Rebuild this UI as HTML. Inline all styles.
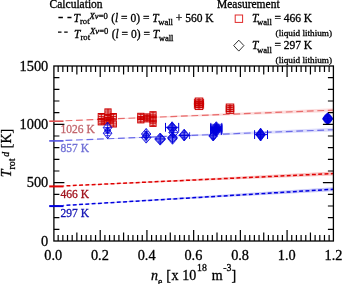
<!DOCTYPE html>
<html lang="en"><head><meta charset="utf-8"><title>Trot vs ne</title>
<style>html,body{margin:0;padding:0;background:#fff;}svg{display:block;}text{font-family:"Liberation Serif","Times New Roman",serif;color:#000;fill:currentColor;stroke:currentColor;stroke-width:0.3px;}.sans{font-family:"Liberation Sans",Arial,sans-serif;}.i{font-style:italic;}</style></head><body>
<svg width="342" height="284" viewBox="0 0 342 284">
<rect x="0" y="0" width="342" height="284" fill="#fff"/>
<polygon points="53.9,121.2 333.4,108.19999999999999 333.4,112.0" fill="#fcdcdc"/>
<polygon points="53.9,140.9 333.4,127.79999999999998 333.4,131.6" fill="#dcdcfc"/>
<polygon points="53.9,186.4 333.4,171.6 333.4,175.6" fill="#f9c4c4"/>
<polygon points="53.9,206.1 333.4,187.3 333.4,191.3" fill="#c6c6f9"/>
<line x1="63.5" y1="120.82" x2="333.4" y2="110.1" stroke="#e86a6a" stroke-width="1.15" stroke-dasharray="6.8 3.7" stroke-dashoffset="-2"/>
<line x1="63.5" y1="140.52" x2="333.4" y2="129.7" stroke="#6a6ae8" stroke-width="1.15" stroke-dasharray="6.8 3.7" stroke-dashoffset="-2"/>
<line x1="63.5" y1="185.96" x2="333.4" y2="173.6" stroke="#e00000" stroke-width="1.5" stroke-dasharray="3.9 2.4" stroke-dashoffset="-3"/>
<line x1="63.5" y1="205.52" x2="333.4" y2="189.3" stroke="#0000e0" stroke-width="1.5" stroke-dasharray="3.9 2.4" stroke-dashoffset="-3"/>
<rect x="104.90" y="108.90" width="6.2" height="6.2" fill="#cc0000" fill-opacity="0.18" stroke="#cc0000" stroke-width="1.0"/>
<path d="M108.00 108.90V115.10M104.90 112.00H111.10M105.50 110.00h5M105.50 114.00h5" stroke="#cc0000" stroke-width="0.9" fill="none"/>
<rect x="98.20" y="113.50" width="6.2" height="6.2" fill="#cc0000" fill-opacity="0.18" stroke="#cc0000" stroke-width="1.0"/>
<path d="M101.30 113.50V119.70M98.20 116.60H104.40M98.80 114.60h5M98.80 118.60h5" stroke="#cc0000" stroke-width="0.9" fill="none"/>
<rect x="98.20" y="118.70" width="6.2" height="6.2" fill="#cc0000" fill-opacity="0.18" stroke="#cc0000" stroke-width="1.0"/>
<path d="M101.30 118.70V124.90M98.20 121.80H104.40M98.80 119.80h5M98.80 123.80h5" stroke="#cc0000" stroke-width="0.9" fill="none"/>
<rect x="104.90" y="114.40" width="6.2" height="6.2" fill="#cc0000" fill-opacity="0.18" stroke="#cc0000" stroke-width="1.0"/>
<path d="M108.00 114.40V120.60M104.90 117.50H111.10M105.50 115.50h5M105.50 119.50h5" stroke="#cc0000" stroke-width="0.9" fill="none"/>
<rect x="110.20" y="113.50" width="6.2" height="6.2" fill="#cc0000" fill-opacity="0.18" stroke="#cc0000" stroke-width="1.0"/>
<path d="M113.30 113.50V119.70M110.20 116.60H116.40M110.80 114.60h5M110.80 118.60h5" stroke="#cc0000" stroke-width="0.9" fill="none"/>
<rect x="110.20" y="120.80" width="6.2" height="6.2" fill="#cc0000" fill-opacity="0.18" stroke="#cc0000" stroke-width="1.0"/>
<path d="M113.30 120.80V127.00M110.20 123.90H116.40M110.80 121.90h5M110.80 125.90h5" stroke="#cc0000" stroke-width="0.9" fill="none"/>
<rect x="102.90" y="117.90" width="6.2" height="6.2" fill="#cc0000" fill-opacity="0.18" stroke="#cc0000" stroke-width="1.0"/>
<path d="M106.00 117.90V124.10M102.90 121.00H109.10M103.50 119.00h5M103.50 123.00h5" stroke="#cc0000" stroke-width="0.9" fill="none"/>
<rect x="106.90" y="116.90" width="6.2" height="6.2" fill="#cc0000" fill-opacity="0.18" stroke="#cc0000" stroke-width="1.0"/>
<path d="M110.00 116.90V123.10M106.90 120.00H113.10M107.50 118.00h5M107.50 122.00h5" stroke="#cc0000" stroke-width="0.9" fill="none"/>
<rect x="137.70" y="113.30" width="6.2" height="6.2" fill="#cc0000" fill-opacity="0.18" stroke="#cc0000" stroke-width="1.0"/>
<path d="M140.80 113.30V119.50M137.70 116.40H143.90M138.30 114.40h5M138.30 118.40h5" stroke="#cc0000" stroke-width="0.9" fill="none"/>
<rect x="137.70" y="116.70" width="6.2" height="6.2" fill="#cc0000" fill-opacity="0.18" stroke="#cc0000" stroke-width="1.0"/>
<path d="M140.80 116.70V122.90M137.70 119.80H143.90M138.30 117.80h5M138.30 121.80h5" stroke="#cc0000" stroke-width="0.9" fill="none"/>
<rect x="143.90" y="113.90" width="6.2" height="6.2" fill="#cc0000" fill-opacity="0.18" stroke="#cc0000" stroke-width="1.0"/>
<path d="M147.00 113.90V120.10M143.90 117.00H150.10M144.50 115.00h5M144.50 119.00h5" stroke="#cc0000" stroke-width="0.9" fill="none"/>
<rect x="143.90" y="115.70" width="6.2" height="6.2" fill="#cc0000" fill-opacity="0.18" stroke="#cc0000" stroke-width="1.0"/>
<path d="M147.00 115.70V121.90M143.90 118.80H150.10M144.50 116.80h5M144.50 120.80h5" stroke="#cc0000" stroke-width="0.9" fill="none"/>
<rect x="149.90" y="111.70" width="6.2" height="6.2" fill="#cc0000" fill-opacity="0.18" stroke="#cc0000" stroke-width="1.0"/>
<path d="M153.00 111.70V117.90M149.90 114.80H156.10M150.50 112.80h5M150.50 116.80h5" stroke="#cc0000" stroke-width="0.9" fill="none"/>
<rect x="149.90" y="115.90" width="6.2" height="6.2" fill="#cc0000" fill-opacity="0.18" stroke="#cc0000" stroke-width="1.0"/>
<path d="M153.00 115.90V122.10M149.90 119.00H156.10M150.50 117.00h5M150.50 121.00h5" stroke="#cc0000" stroke-width="0.9" fill="none"/>
<rect x="149.90" y="120.20" width="6.2" height="6.2" fill="#cc0000" fill-opacity="0.18" stroke="#cc0000" stroke-width="1.0"/>
<path d="M153.00 120.20V126.40M149.90 123.30H156.10M150.50 121.30h5M150.50 125.30h5" stroke="#cc0000" stroke-width="0.9" fill="none"/>
<rect x="195.25" y="98.05" width="7.5" height="7.5" fill="#cc0000" fill-opacity="0.18" stroke="#cc0000" stroke-width="1.0"/>
<path d="M199.00 98.10V105.50M195.25 101.80H202.75M196.50 99.80h5M196.50 103.80h5" stroke="#cc0000" stroke-width="0.9" fill="none"/>
<path d="M194.40 101.80H203.60M194.40 98.80v6M203.60 98.80v6" stroke="#cc0000" stroke-width="0.9" fill="none"/>
<rect x="195.25" y="100.05" width="7.5" height="7.5" fill="#cc0000" fill-opacity="0.18" stroke="#cc0000" stroke-width="1.0"/>
<path d="M199.00 100.10V107.50M195.25 103.80H202.75M196.50 101.80h5M196.50 105.80h5" stroke="#cc0000" stroke-width="0.9" fill="none"/>
<path d="M194.50 103.80H203.50M194.50 100.80v6M203.50 100.80v6" stroke="#cc0000" stroke-width="0.9" fill="none"/>
<rect x="195.25" y="102.05" width="7.5" height="7.5" fill="#cc0000" fill-opacity="0.18" stroke="#cc0000" stroke-width="1.0"/>
<path d="M199.00 102.10V109.50M195.25 105.80H202.75M196.50 103.80h5M196.50 107.80h5" stroke="#cc0000" stroke-width="0.9" fill="none"/>
<path d="M194.40 105.80H203.60M194.40 102.80v6M203.60 102.80v6" stroke="#cc0000" stroke-width="0.9" fill="none"/>
<rect x="226.25" y="104.05" width="7.5" height="7.5" fill="#cc0000" fill-opacity="0.18" stroke="#cc0000" stroke-width="1.0"/>
<path d="M230.00 104.10V111.50M226.25 107.80H233.75M227.50 105.80h5M227.50 109.80h5" stroke="#cc0000" stroke-width="0.9" fill="none"/>
<rect x="226.25" y="105.85" width="7.5" height="7.5" fill="#cc0000" fill-opacity="0.18" stroke="#cc0000" stroke-width="1.0"/>
<path d="M230.00 105.90V113.30M226.25 109.60H233.75M227.50 107.60h5M227.50 111.60h5" stroke="#cc0000" stroke-width="0.9" fill="none"/>
<rect x="211" y="123.8" width="10.6" height="9.4" fill="#0000dd" fill-opacity="0.55"/>
<ellipse cx="327.7" cy="118.7" rx="4.6" ry="5.4" fill="#0000dd" fill-opacity="0.6"/>
<path d="M107.60 122.10L111.90 127.60L107.60 133.10L103.30 127.60Z" fill="#0000dd" fill-opacity="0.03" stroke="#0000dd" stroke-width="0.85"/>
<path d="M107.60 122.10V133.10M103.30 127.60H111.90M105.40 125.20h4.4M105.40 130.00h4.4" stroke="#0000dd" stroke-width="0.7" fill="none"/>
<path d="M107.60 127.70L111.90 133.20L107.60 138.70L103.30 133.20Z" fill="#0000dd" fill-opacity="0.03" stroke="#0000dd" stroke-width="0.85"/>
<path d="M107.60 127.70V138.70M103.30 133.20H111.90M105.40 130.80h4.4M105.40 135.60h4.4" stroke="#0000dd" stroke-width="0.7" fill="none"/>
<path d="M107.60 126.90L110.60 130.40L107.60 133.90L104.60 130.40Z" fill="#0000dd" fill-opacity="0.0" stroke="#0000dd" stroke-width="0.7"/>
<path d="M107.60 126.90V133.90M104.60 130.40H110.60M105.40 128.00h4.4M105.40 132.80h4.4" stroke="#0000dd" stroke-width="0.7" fill="none"/>
<path d="M146.20 128.50L150.90 134.00L146.20 139.50L141.50 134.00Z" fill="#0000dd" fill-opacity="0.08" stroke="#0000dd" stroke-width="0.85"/>
<path d="M146.20 128.50V139.50M141.50 134.00H150.90M144.00 131.60h4.4M144.00 136.40h4.4" stroke="#0000dd" stroke-width="0.7" fill="none"/>
<path d="M146.20 132.10L150.90 137.60L146.20 143.10L141.50 137.60Z" fill="#0000dd" fill-opacity="0.08" stroke="#0000dd" stroke-width="0.85"/>
<path d="M146.20 132.10V143.10M141.50 137.60H150.90M144.00 135.20h4.4M144.00 140.00h4.4" stroke="#0000dd" stroke-width="0.7" fill="none"/>
<path d="M146.20 130.90L149.45 135.40L146.20 139.90L142.95 135.40Z" fill="#0000dd" fill-opacity="0.0" stroke="#0000dd" stroke-width="0.7"/>
<path d="M146.20 130.90V139.90M142.95 135.40H149.45M144.00 133.00h4.4M144.00 137.80h4.4" stroke="#0000dd" stroke-width="0.7" fill="none"/>
<path d="M160.20 133.00L165.30 138.50L160.20 144.00L155.10 138.50Z" fill="#0000dd" fill-opacity="0.1" stroke="#0000dd" stroke-width="0.85"/>
<path d="M160.20 133.00V144.00M155.10 138.50H165.30M158.00 136.10h4.4M158.00 140.90h4.4" stroke="#0000dd" stroke-width="0.7" fill="none"/>
<path d="M160.20 134.10L165.30 139.60L160.20 145.10L155.10 139.60Z" fill="#0000dd" fill-opacity="0.1" stroke="#0000dd" stroke-width="0.85"/>
<path d="M160.20 134.10V145.10M155.10 139.60H165.30M158.00 137.20h4.4M158.00 142.00h4.4" stroke="#0000dd" stroke-width="0.7" fill="none"/>
<path d="M172.10 121.80L176.80 127.30L172.10 132.80L167.40 127.30Z" fill="#0000dd" fill-opacity="0.25" stroke="#0000dd" stroke-width="0.85"/>
<path d="M172.10 121.80V132.80M167.40 127.30H176.80M169.90 124.90h4.4M169.90 129.70h4.4" stroke="#0000dd" stroke-width="0.7" fill="none"/>
<path d="M165.50 127.30H178.70M165.50 122.90v8.8M178.70 122.90v8.8" stroke="#0000dd" stroke-width="1" fill="none"/>
<path d="M172.10 122.80L176.80 128.30L172.10 133.80L167.40 128.30Z" fill="#0000dd" fill-opacity="0.25" stroke="#0000dd" stroke-width="0.85"/>
<path d="M172.10 122.80V133.80M167.40 128.30H176.80M169.90 125.90h4.4M169.90 130.70h4.4" stroke="#0000dd" stroke-width="0.7" fill="none"/>
<path d="M173.50 127.00L178.20 132.50L173.50 138.00L168.80 132.50Z" fill="#0000dd" fill-opacity="0.08" stroke="#0000dd" stroke-width="0.85"/>
<path d="M173.50 127.00V138.00M168.80 132.50H178.20M171.30 130.10h4.4M171.30 134.90h4.4" stroke="#0000dd" stroke-width="0.7" fill="none"/>
<path d="M172.50 133.20L177.20 138.70L172.50 144.20L167.80 138.70Z" fill="#0000dd" fill-opacity="0.1" stroke="#0000dd" stroke-width="0.85"/>
<path d="M172.50 133.20V144.20M167.80 138.70H177.20M170.30 136.30h4.4M170.30 141.10h4.4" stroke="#0000dd" stroke-width="0.7" fill="none"/>
<path d="M172.50 132.00L177.20 137.50L172.50 143.00L167.80 137.50Z" fill="#0000dd" fill-opacity="0.1" stroke="#0000dd" stroke-width="0.85"/>
<path d="M172.50 132.00V143.00M167.80 137.50H177.20M170.30 135.10h4.4M170.30 139.90h4.4" stroke="#0000dd" stroke-width="0.7" fill="none"/>
<path d="M184.20 130.00L188.90 135.50L184.20 141.00L179.50 135.50Z" fill="#0000dd" fill-opacity="0.12" stroke="#0000dd" stroke-width="0.85"/>
<path d="M184.20 130.00V141.00M179.50 135.50H188.90M182.00 133.10h4.4M182.00 137.90h4.4" stroke="#0000dd" stroke-width="0.7" fill="none"/>
<path d="M184.20 129.20L188.90 134.70L184.20 140.20L179.50 134.70Z" fill="#0000dd" fill-opacity="0.12" stroke="#0000dd" stroke-width="0.85"/>
<path d="M184.20 129.20V140.20M179.50 134.70H188.90M182.00 132.30h4.4M182.00 137.10h4.4" stroke="#0000dd" stroke-width="0.7" fill="none"/>
<path d="M216.30 121.80L221.30 127.30L216.30 132.80L211.30 127.30Z" fill="#0000dd" fill-opacity="0.3" stroke="#0000dd" stroke-width="0.85"/>
<path d="M216.30 121.80V132.80M211.30 127.30H221.30M214.10 124.90h4.4M214.10 129.70h4.4" stroke="#0000dd" stroke-width="0.7" fill="none"/>
<path d="M210.80 127.30H221.80M210.80 122.90v8.8M221.80 122.90v8.8" stroke="#0000dd" stroke-width="1" fill="none"/>
<path d="M216.30 122.90L221.30 128.40L216.30 133.90L211.30 128.40Z" fill="#0000dd" fill-opacity="0.3" stroke="#0000dd" stroke-width="0.85"/>
<path d="M216.30 122.90V133.90M211.30 128.40H221.30M214.10 126.00h4.4M214.10 130.80h4.4" stroke="#0000dd" stroke-width="0.7" fill="none"/>
<path d="M210.70 128.40H221.90M210.70 124.00v8.8M221.90 124.00v8.8" stroke="#0000dd" stroke-width="1" fill="none"/>
<path d="M216.30 124.10L221.30 129.60L216.30 135.10L211.30 129.60Z" fill="#0000dd" fill-opacity="0.3" stroke="#0000dd" stroke-width="0.85"/>
<path d="M216.30 124.10V135.10M211.30 129.60H221.30M214.10 127.20h4.4M214.10 132.00h4.4" stroke="#0000dd" stroke-width="0.7" fill="none"/>
<path d="M210.80 129.60H221.80M210.80 125.20v8.8M221.80 125.20v8.8" stroke="#0000dd" stroke-width="1" fill="none"/>
<path d="M216.00 125.10L221.00 130.60L216.00 136.10L211.00 130.60Z" fill="#0000dd" fill-opacity="0.3" stroke="#0000dd" stroke-width="0.85"/>
<path d="M216.00 125.10V136.10M211.00 130.60H221.00M213.80 128.20h4.4M213.80 133.00h4.4" stroke="#0000dd" stroke-width="0.7" fill="none"/>
<path d="M210.70 130.60H221.30M210.70 126.20v8.8M221.30 126.20v8.8" stroke="#0000dd" stroke-width="1" fill="none"/>
<path d="M213.20 131.40L217.30 136.20L213.20 141.00L209.10 136.20Z" fill="#0000dd" fill-opacity="0.25" stroke="#0000dd" stroke-width="0.85"/>
<path d="M213.20 131.40V141.00M209.10 136.20H217.30M211.00 133.80h4.4M211.00 138.60h4.4" stroke="#0000dd" stroke-width="0.7" fill="none"/>
<path d="M213.20 130.60L217.30 135.40L213.20 140.20L209.10 135.40Z" fill="#0000dd" fill-opacity="0.25" stroke="#0000dd" stroke-width="0.85"/>
<path d="M213.20 130.60V140.20M209.10 135.40H217.30M211.00 133.00h4.4M211.00 137.80h4.4" stroke="#0000dd" stroke-width="0.7" fill="none"/>
<path d="M260.60 128.90L264.90 134.60L260.60 140.30L256.30 134.60Z" fill="#0000dd" fill-opacity="0.35" stroke="#0000dd" stroke-width="0.85"/>
<path d="M260.60 128.90V140.30M256.30 134.60H264.90M258.40 132.20h4.4M258.40 137.00h4.4" stroke="#0000dd" stroke-width="0.7" fill="none"/>
<path d="M260.60 128.20L264.90 133.90L260.60 139.60L256.30 133.90Z" fill="#0000dd" fill-opacity="0.35" stroke="#0000dd" stroke-width="0.85"/>
<path d="M260.60 128.20V139.60M256.30 133.90H264.90M258.40 131.50h4.4M258.40 136.30h4.4" stroke="#0000dd" stroke-width="0.7" fill="none"/>
<path d="M260.60 129.60L264.90 135.30L260.60 141.00L256.30 135.30Z" fill="#0000dd" fill-opacity="0.35" stroke="#0000dd" stroke-width="0.85"/>
<path d="M260.60 129.60V141.00M256.30 135.30H264.90M258.40 132.90h4.4M258.40 137.70h4.4" stroke="#0000dd" stroke-width="0.7" fill="none"/>
<path d="M327.70 112.80L332.50 118.10L327.70 123.40L322.90 118.10Z" fill="#0000dd" fill-opacity="0.4" stroke="#0000dd" stroke-width="0.85"/>
<path d="M327.70 112.80V123.40M322.90 118.10H332.50M325.50 115.70h4.4M325.50 120.50h4.4" stroke="#0000dd" stroke-width="0.7" fill="none"/>
<path d="M327.70 113.40L332.50 118.70L327.70 124.00L322.90 118.70Z" fill="#0000dd" fill-opacity="0.4" stroke="#0000dd" stroke-width="0.85"/>
<path d="M327.70 113.40V124.00M322.90 118.70H332.50M325.50 116.30h4.4M325.50 121.10h4.4" stroke="#0000dd" stroke-width="0.7" fill="none"/>
<path d="M327.70 114.00L332.50 119.30L327.70 124.60L322.90 119.30Z" fill="#0000dd" fill-opacity="0.4" stroke="#0000dd" stroke-width="0.85"/>
<path d="M327.70 114.00V124.60M322.90 119.30H332.50M325.50 116.90h4.4M325.50 121.70h4.4" stroke="#0000dd" stroke-width="0.7" fill="none"/>
<path d="M178.5 135.5H190.6M189.6 132.2v6.8" stroke="#0000dd" stroke-width="0.8" fill="none"/>
<path d="M254.6 134.6H267.5M254.6 130.2v8.8M267.5 130.2v8.8" stroke="#0000dd" stroke-width="1" fill="none"/>
<rect x="53.9" y="66.0" width="279.50" height="175.00" fill="none" stroke="#000" stroke-width="1.3"/>
<path d="M58.17 241.0v-6.0M58.17 66.0v6.0M62.84 241.0v-6.0M62.84 66.0v6.0M67.52 241.0v-6.0M67.52 66.0v6.0M72.19 241.0v-6.0M72.19 66.0v6.0M76.86 241.0v-8.5M76.86 66.0v8.5M81.53 241.0v-6.0M81.53 66.0v6.0M86.20 241.0v-6.0M86.20 66.0v6.0M90.87 241.0v-6.0M90.87 66.0v6.0M95.55 241.0v-6.0M95.55 66.0v6.0M100.22 241.0v-11.0M100.22 66.0v11.0M104.89 241.0v-6.0M104.89 66.0v6.0M109.56 241.0v-6.0M109.56 66.0v6.0M114.23 241.0v-6.0M114.23 66.0v6.0M118.90 241.0v-6.0M118.90 66.0v6.0M123.58 241.0v-8.5M123.58 66.0v8.5M128.25 241.0v-6.0M128.25 66.0v6.0M132.92 241.0v-6.0M132.92 66.0v6.0M137.59 241.0v-6.0M137.59 66.0v6.0M142.26 241.0v-6.0M142.26 66.0v6.0M146.93 241.0v-11.0M146.93 66.0v11.0M151.61 241.0v-6.0M151.61 66.0v6.0M156.28 241.0v-6.0M156.28 66.0v6.0M160.95 241.0v-6.0M160.95 66.0v6.0M165.62 241.0v-6.0M165.62 66.0v6.0M170.29 241.0v-8.5M170.29 66.0v8.5M174.96 241.0v-6.0M174.96 66.0v6.0M179.64 241.0v-6.0M179.64 66.0v6.0M184.31 241.0v-6.0M184.31 66.0v6.0M188.98 241.0v-6.0M188.98 66.0v6.0M193.65 241.0v-11.0M193.65 66.0v11.0M198.32 241.0v-6.0M198.32 66.0v6.0M202.99 241.0v-6.0M202.99 66.0v6.0M207.67 241.0v-6.0M207.67 66.0v6.0M212.34 241.0v-6.0M212.34 66.0v6.0M217.01 241.0v-8.5M217.01 66.0v8.5M221.68 241.0v-6.0M221.68 66.0v6.0M226.35 241.0v-6.0M226.35 66.0v6.0M231.02 241.0v-6.0M231.02 66.0v6.0M235.70 241.0v-6.0M235.70 66.0v6.0M240.37 241.0v-11.0M240.37 66.0v11.0M245.04 241.0v-6.0M245.04 66.0v6.0M249.71 241.0v-6.0M249.71 66.0v6.0M254.38 241.0v-6.0M254.38 66.0v6.0M259.05 241.0v-6.0M259.05 66.0v6.0M263.73 241.0v-8.5M263.73 66.0v8.5M268.40 241.0v-6.0M268.40 66.0v6.0M273.07 241.0v-6.0M273.07 66.0v6.0M277.74 241.0v-6.0M277.74 66.0v6.0M282.41 241.0v-6.0M282.41 66.0v6.0M287.08 241.0v-11.0M287.08 66.0v11.0M291.75 241.0v-6.0M291.75 66.0v6.0M296.43 241.0v-6.0M296.43 66.0v6.0M301.10 241.0v-6.0M301.10 66.0v6.0M305.77 241.0v-6.0M305.77 66.0v6.0M310.44 241.0v-8.5M310.44 66.0v8.5M315.11 241.0v-6.0M315.11 66.0v6.0M319.79 241.0v-6.0M319.79 66.0v6.0M324.46 241.0v-6.0M324.46 66.0v6.0M329.13 241.0v-6.0M329.13 66.0v6.0M53.9 229.33h5.5M333.4 229.33h-5.5M53.9 217.67h5.5M333.4 217.67h-5.5M53.9 206.00h5.5M333.4 206.00h-5.5M53.9 194.33h5.5M333.4 194.33h-5.5M53.9 182.67h10.5M333.4 182.67h-10.5M53.9 171.00h5.5M333.4 171.00h-5.5M53.9 159.33h5.5M333.4 159.33h-5.5M53.9 147.67h5.5M333.4 147.67h-5.5M53.9 136.00h5.5M333.4 136.00h-5.5M53.9 124.33h10.5M333.4 124.33h-10.5M53.9 112.67h5.5M333.4 112.67h-5.5M53.9 101.00h5.5M333.4 101.00h-5.5M53.9 89.33h5.5M333.4 89.33h-5.5M53.9 77.67h5.5M333.4 77.67h-5.5" stroke="#000" stroke-width="1.2" fill="none"/>
<line x1="49.2" y1="121.2" x2="63.5" y2="121.2" stroke="#e05050" stroke-width="1.6"/>
<line x1="49.2" y1="140.9" x2="63.5" y2="140.9" stroke="#5050e0" stroke-width="1.6"/>
<line x1="49.2" y1="186.4" x2="63.5" y2="186.4" stroke="#e00000" stroke-width="2.0"/>
<line x1="49.2" y1="206.1" x2="63.5" y2="206.1" stroke="#0000e0" stroke-width="2.0"/>
<text x="48.3" y="245.60" font-size="14.4" text-anchor="end">0</text>
<text x="48.3" y="187.27" font-size="14.4" text-anchor="end">500</text>
<text x="48.3" y="128.93" font-size="14.4" text-anchor="end">1000</text>
<text x="48.3" y="70.60" font-size="14.4" text-anchor="end">1500</text>
<text x="53.20" y="259.9" font-size="14.3" text-anchor="middle">0.0</text>
<text x="99.92" y="259.9" font-size="14.3" text-anchor="middle">0.2</text>
<text x="146.63" y="259.9" font-size="14.3" text-anchor="middle">0.4</text>
<text x="193.35" y="259.9" font-size="14.3" text-anchor="middle">0.6</text>
<text x="240.07" y="259.9" font-size="14.3" text-anchor="middle">0.8</text>
<text x="286.78" y="259.9" font-size="14.3" text-anchor="middle">1.0</text>
<text x="333.50" y="259.9" font-size="14.3" text-anchor="middle">1.2</text>
<text x="151.1" y="280.4" font-size="14"><tspan class="i">n</tspan><tspan font-size="9.8" dy="4.6">e</tspan><tspan dy="-4.6" dx="0.4"> [</tspan><tspan dx="0.5">x</tspan><tspan dx="0.3"> 10</tspan><tspan font-size="9.8" dy="-9.7" x="197.0">18</tspan><tspan dy="9.7" x="211.7">m</tspan><tspan font-size="9.8" dy="-9.7" x="223.2">-3</tspan><tspan dy="9.7" x="231.6">]</tspan></text>
<text transform="translate(11.3,177.3) rotate(-90)" font-size="14"><tspan class="i">T</tspan><tspan font-size="9.8" dy="3.6">rot</tspan><tspan class="i" font-size="9.8" dy="-6.0" dx="1.8">d</tspan><tspan dy="2.4" dx="0.25"> [K]</tspan></text>
<text x="60.6" y="132.5" font-size="11.5" style="color:#c2666c">1026 K</text>
<text x="60.6" y="152.2" font-size="11.5" style="color:#7070d6">857 K</text>
<text x="60.6" y="197.7" font-size="11.5" style="color:#a0101a">466 K</text>
<text x="60.6" y="217.3" font-size="11.5" style="color:#1414b4">297 K</text>
<text x="49.6" y="7.9" font-size="11.5">Calculation</text>
<path d="M58.4 17.5h4.5M67.4 17.5h4.1M58 32.2h3.5M64.2 32.2h3.5" stroke="#000" stroke-width="1.3"/>
<text x="73.6" y="21.6" font-size="11.5"><tspan class="i">T</tspan><tspan font-size="8.6" dy="2.8">rot</tspan><tspan font-size="8.6" dy="-5.60" class="i">Xv</tspan><tspan font-size="8.6">=0</tspan><tspan dy="2.8" dx="0.5"> (</tspan><tspan class="i">l</tspan> = 0) = <tspan class="i">T</tspan><tspan font-size="8.6" dy="3.2" dx="-0.5">wall</tspan><tspan dy="-3.2"> + 560 K</tspan></text>
<text x="74.1" y="37.6" font-size="11.5"><tspan class="i">T</tspan><tspan font-size="8.6" dy="2.8">rot</tspan><tspan font-size="8.6" dy="-6.30" class="i">Xv</tspan><tspan font-size="8.6">=0</tspan><tspan dy="3.5" dx="0.5"> (</tspan><tspan class="i">l</tspan> = 0) = <tspan class="i">T</tspan><tspan font-size="8.6" dy="3.2" dx="-0.5">wall</tspan><tspan dy="-3.2"></tspan></text>
<text x="217" y="7.8" font-size="11.5">Measurement</text>
<rect x="235.2" y="15.0" width="7.4" height="7.4" fill="none" stroke="#e02a2a" stroke-width="1"/>
<path d="M238.8 40.2L243.9 45.6L238.8 51.1L233.7 45.6Z" fill="none" stroke="#000" stroke-width="0.8"/>
<text x="252.0" y="21.8" font-size="11.5"><tspan class="i">T</tspan><tspan font-size="8.6" dy="3.2" dx="-1.3">wall</tspan><tspan dy="-3.2" dx="-0.4"> = 466 K</tspan></text>
<text x="252.0" y="49.3" font-size="11.5"><tspan class="i">T</tspan><tspan font-size="8.6" dy="3.2" dx="-1.3">wall</tspan><tspan dy="-3.2" dx="-0.4"> = 297 K</tspan></text>
<text x="275.6" y="35.8" font-size="9.2">(liquid lithium)</text>
<text x="275.6" y="62.7" font-size="9.2">(liquid lithium)</text>
</svg></body></html>
